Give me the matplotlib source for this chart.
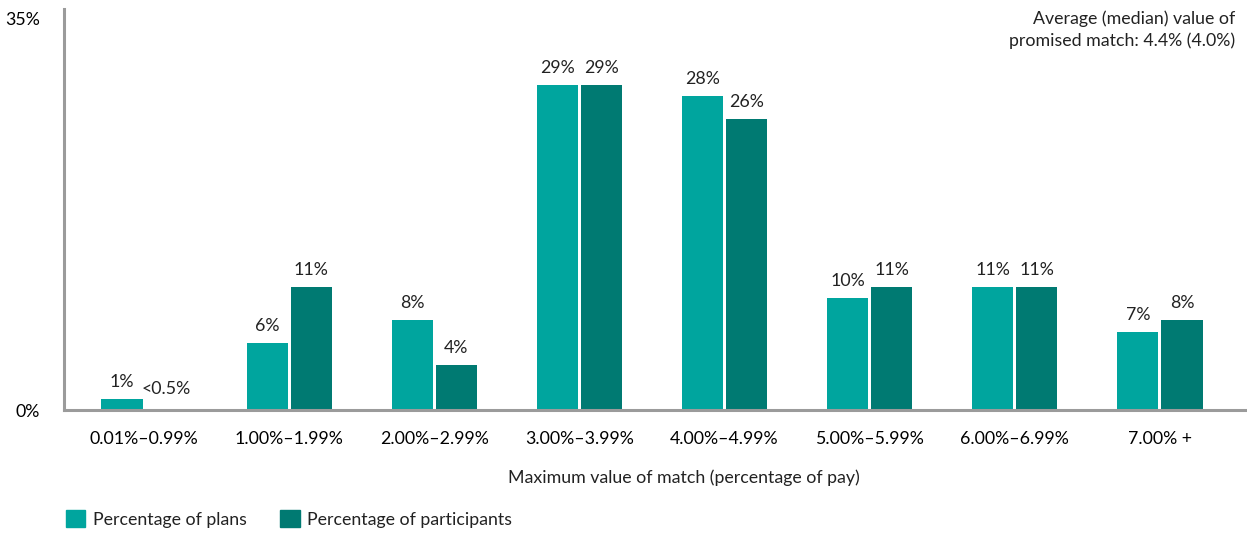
import matplotlib
matplotlib.use("Agg")
from matplotlib import pyplot as plt
from matplotlib.patches import Patch
import numpy as np

# data
categories = ["0.01%–0.99%", "1.00%–1.99%", "2.00%–2.99%", "3.00%–3.99%",
              "4.00%–4.99%", "5.00%–5.99%", "6.00%–6.99%", "7.00% +"]
plans = [1, 6, 8, 29, 28, 10, 11, 7]
participants = [0, 11, 4, 29, 26, 11, 11, 8]
plan_labels = ["1%", "6%", "8%", "29%", "28%", "10%", "11%", "7%"]
part_labels = ["<0.5%", "11%", "4%", "29%", "26%", "11%", "11%", "8%"]

light = "#00A59E"
dark = "#007A72"
grey = "#9B9B9B"

plt.rcParams['font.family'] = ['Lato', 'DejaVu Sans']
plt.rcParams['font.size'] = 12.8
plt.rcParams['text.color'] = '#222222'

fig = plt.figure(figsize=(12.47, 5.35), dpi=100)
ax = fig.add_axes([0.0513, 0.2336, 0.9487, 0.7494])

x = np.arange(len(categories))
w = 0.283
off = 0.152
b1 = ax.bar(x - off, plans, w, color=light)
b2 = ax.bar(x + off, participants, w, color=dark)

for rect, lab in zip(b1, plan_labels):
    ax.annotate(lab, (rect.get_x() + rect.get_width() / 2, rect.get_height()),
                xytext=(0, 6.5), textcoords="offset points", ha="center", va="bottom")
for rect, lab in zip(b2, part_labels):
    ax.annotate(lab, (rect.get_x() + rect.get_width() / 2, rect.get_height()),
                xytext=(0, 9.5 if rect.get_height() == 0 else 6.5),
                textcoords="offset points", ha="center", va="bottom")

ax.set_xlim(-0.552, 7.6)
ax.set_ylim(0, 35.8)
ax.set_yticks([0, 35])
ax.set_yticklabels(["0%", "35%"])
ax.set_xticks(x)
ax.set_xticklabels(categories)
ax.tick_params(axis="both", length=0)
ax.tick_params(axis="y", pad=17)
ax.tick_params(axis="x", pad=15)

for s in ["top", "right"]:
    ax.spines[s].set_visible(False)
for s in ["left", "bottom"]:
    ax.spines[s].set_color(grey)
    ax.spines[s].set_linewidth(2.2)

fig.text(684 / 1247, 1 - 478 / 535, "Maximum value of match (percentage of pay)",
         ha="center", va="center")
fig.text(1235 / 1247, 1 - 30 / 535, "Average (median) value of\npromised match: 4.4% (4.0%)",
         ha="right", va="center", linespacing=1.4)

handles = [Patch(color=light), Patch(color=dark)]
fig.legend(handles, ["Percentage of plans", "Percentage of participants"],
           loc="center left", bbox_to_anchor=(0.04, 1 - 519 / 535), ncol=2,
           frameon=False, handlelength=1.1, handleheight=1.1,
           handletextpad=0.4, columnspacing=1.9)

fig.savefig("out.png", dpi=100)
